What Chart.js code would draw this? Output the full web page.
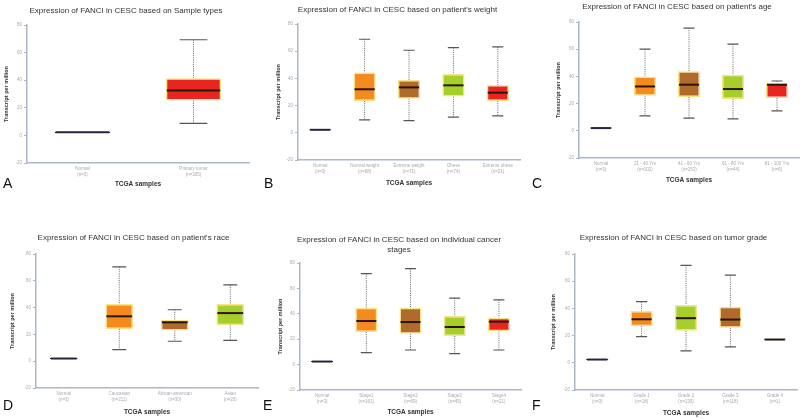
<!DOCTYPE html>
<html>
<head>
<meta charset="utf-8">
<script src="https://cdn.jsdelivr.net/npm/chart.js@4.4.0/dist/chart.umd.min.js"></script>
<style>
  body { margin: 0; background: #fff; width: 800px; height: 419px; overflow: hidden; font-family: "Liberation Sans", Arial, sans-serif; }
  .panel { position: absolute; }
  .letter { position: absolute; font-size: 14px; color: #111; }
</style>
</head>
<body>
<div class="panel" style="left:0;top:0;width:265px;height:200px"><canvas id="cA"></canvas></div>
<div class="panel" style="left:265px;top:0;width:265px;height:200px"><canvas id="cB"></canvas></div>
<div class="panel" style="left:530px;top:0;width:270px;height:200px"><canvas id="cC"></canvas></div>
<div class="panel" style="left:0;top:205px;width:265px;height:214px"><canvas id="cD"></canvas></div>
<div class="panel" style="left:265px;top:205px;width:265px;height:214px"><canvas id="cE"></canvas></div>
<div class="panel" style="left:530px;top:205px;width:270px;height:214px"><canvas id="cF"></canvas></div>
<div class="letter" style="left:3px;top:175px">A</div>
<div class="letter" style="left:264px;top:175px">B</div>
<div class="letter" style="left:532px;top:175px">C</div>
<div class="letter" style="left:3px;top:397px">D</div>
<div class="letter" style="left:263px;top:397px">E</div>
<div class="letter" style="left:532px;top:397px">F</div>
<script>
// datos (TPM)
const labelsA = [['Normal', '(n=3)'], ['Primary tumor', '(n=305)']];
const lowA  = [2.2, 8.7];
const q1A   = [1.8, 25.2];
const medA  = [2.2, 32.5];
const q3A   = [2.6, 41.5];
const highA = [2.2, 69.3];

const labelsB = [['Normal', '(n=3)'], ['Normal weight', '(n=88)'], ['Extreme weight', '(n=71)'], ['Obese', '(n=74)'], ['Extreme obese', '(n=21)']];
const lowB  = [2.2, 9.5, 9.0, 11.5, 12.4];
const q1B   = [1.8, 23.4, 25.1, 26.6, 23.4];
const medB  = [2.2, 32.0, 33.4, 34.9, 29.5];
const q3B   = [2.6, 44.4, 38.8, 43.2, 35.1];
const highB = [2.2, 68.8, 60.7, 62.7, 63.2];

const labelsC = [['Normal', '(n=3)'], ['21 - 40 Yrs', '(n=102)'], ['41 - 60 Yrs', '(n=153)'], ['61 - 80 Yrs', '(n=44)'], ['81 - 100 Yrs', '(n=6)']];
const lowC  = [2.0, 11.0, 9.3, 8.8, 14.7];
const q1C   = [1.6, 25.8, 24.8, 23.3, 24.1];
const medC  = [2.0, 32.6, 33.9, 30.7, 33.9];
const q3C   = [2.4, 40.0, 43.7, 41.2, 34.8];
const highC = [2.0, 60.0, 75.5, 63.8, 36.6];

const labelsD = [['Normal', '(n=3)'], ['Caucasian', '(n=211)'], ['African-american', '(n=30)'], ['Asian', '(n=20)']];
const lowD  = [2.0, 8.7, 14.9, 15.6];
const q1D   = [1.6, 24.0, 23.0, 26.8];
const medD  = [2.0, 33.5, 29.0, 35.9];
const q3D   = [2.4, 42.6, 31.0, 42.6];
const highD = [2.0, 70.4, 38.4, 57.0];

const labelsE = [['Normal', '(n=3)'], ['Stage1', '(n=161)'], ['Stage2', '(n=69)'], ['Stage3', '(n=45)'], ['Stage4', '(n=21)']];
const lowE  = [2.4, 9.4, 11.5, 8.6, 11.5];
const q1E   = [2.0, 25.7, 24.3, 22.5, 26.2];
const medE  = [2.4, 34.3, 33.5, 29.6, 33.8];
const q3E   = [2.8, 44.8, 44.8, 38.2, 36.9];
const highE = [2.4, 71.7, 75.6, 52.4, 51.0];

const labelsF = [['Normal', '(n=3)'], ['Grade 1', '(n=18)'], ['Grade 2', '(n=135)'], ['Grade 3', '(n=118)'], ['Grade 4', '(n=1)']];
const lowF  = [2.4, 19.3, 8.8, 11.7, 17.1];
const q1F   = [2.0, 26.9, 23.5, 25.7, 16.8];
const medF  = [2.4, 32.0, 32.8, 31.8, 17.1];
const q3F   = [2.8, 38.1, 42.5, 41.3, 17.4];
const highF = [2.4, 45.0, 71.7, 64.5, 17.1];

const yTicks = [-20, 0, 20, 40, 60, 80];

// colores
const NAVY = '#25253d', RED = '#e8251f', ORANGE = '#f58a1f', BROWN = '#b06a2a', GREEN = '#a6cf2b', GRAY = '#444444';

//Plugin para bigotes y medianas
const boxWhiskers = {
  id: 'boxWhiskers',
  beforeDatasetsDraw(chart) {
    const ds = chart.data.datasets[0];
    const meta = chart.getDatasetMeta(0);
    const y = chart.scales.y;
    const ctx = chart.ctx;
    ctx.save();
    meta.data.forEach((bar, i) => {
      const x = bar.x, w = bar.width;
      if (ds.high[i] === ds.low[i]) return;
      ctx.strokeStyle = '#666';
      ctx.lineWidth = 1;
      ctx.setLineDash([1, 1.2]);
      ctx.beginPath();
      ctx.moveTo(x, y.getPixelForValue(ds.high[i]));
      ctx.lineTo(x, y.getPixelForValue(ds.q3[i]));
      ctx.moveTo(x, y.getPixelForValue(ds.q1[i]));
      ctx.lineTo(x, y.getPixelForValue(ds.low[i]));
      ctx.stroke();
      ctx.setLineDash([]);
      ctx.strokeStyle = '#555';
      ctx.lineWidth = 1.2;
      ctx.beginPath();
      [ds.high[i], ds.low[i]].forEach(v => {
        const py = y.getPixelForValue(v);
        ctx.moveTo(x - w * 0.25, py);
        ctx.lineTo(x + w * 0.25, py);
      });
      ctx.stroke();
    });
    ctx.restore();
  },
  afterDatasetsDraw(chart) {
    const ds = chart.data.datasets[0];
    const meta = chart.getDatasetMeta(0);
    const y = chart.scales.y;
    const ctx = chart.ctx;
    ctx.save();
    meta.data.forEach((bar, i) => {
      const py = y.getPixelForValue(ds.med[i]);
      ctx.strokeStyle = ds.medColor[i];
      ctx.lineWidth = 2;
      ctx.beginPath();
      ctx.moveTo(bar.x - bar.width / 2 + 1, py);
      ctx.lineTo(bar.x + bar.width / 2 - 1, py);
      ctx.stroke();
    });
    ctx.restore();
  }
};

function renderPanel(id, title, labels, low, q1, med, q3, high, colors, lay) {
  const W = lay.w, H = lay.h;
  const titleLines = Array.isArray(title) ? title.length : 1;
  const titleH = titleLines * 9.6;
  const padTop = lay.titleY - titleH / 2;
  const padBottom = H - lay.xTitleY - 3.9;
  const data = {
    labels: labels,
    datasets: [{
      data: labels.map((l, i) => [q1[i], q3[i]]),
      low: low, high: high, med: med, q1: q1, q3: q3,
      medColor: colors.map(c => c === NAVY ? NAVY : '#2b140a'),
      backgroundColor: colors,
      borderColor: colors.map(c => c === NAVY ? NAVY : (c === GRAY ? GRAY : '#f7e48a')),
      borderWidth: 1.5,
      borderSkipped: false,
      barPercentage: 0.5,
      categoryPercentage: 1
    }]
  };
  const configData = {
    type: 'bar',
    data: data,
    plugins: [boxWhiskers],
    options: {
      responsive: true,
      maintainAspectRatio: false,
      animation: false,
      layout: { padding: { left: lay.padL, top: 0, right: W - lay.x1, bottom: padBottom } },
      plugins: {
        legend: { display: false },
        tooltip: { enabled: false },
        title: {
          display: true,
          text: title,
          color: '#333',
          font: { size: 8, weight: 'normal', family: '"Liberation Sans", Arial, sans-serif', lineHeight: 1.2 },
          padding: { top: padTop, bottom: lay.y0 - padTop - titleH }
        }
      },
      scales: {
        y: {
          min: -20, max: 80,
          afterBuildTicks: s => { s.ticks = yTicks.map(v => ({ value: v })); },
          afterFit: s => { s.width = lay.x0 - lay.padL; },
          ticks: { color: '#aaa', font: { size: 4.5 }, padding: 2 },
          grid: { display: true, drawOnChartArea: false, drawTicks: true, tickLength: 3, color: '#a9b7c6' },
          border: { display: true, color: '#a9b7c6', width: 1.5 },
          title: { display: true, text: 'Transcript per million', color: '#333', font: { size: 5.5, weight: 'bold' }, padding: { top: 0, bottom: 2 } }
        },
        x: {
          afterFit: s => { s.height = H - padBottom - lay.y1; },
          ticks: { color: '#aaa', font: { size: 4.5, lineHeight: 1.3 }, padding: 3, maxRotation: 0, autoSkip: false },
          grid: { display: false, drawTicks: false },
          border: { display: true, color: '#a9b7c6', width: 1.5 },
          title: { display: true, text: 'TCGA samples', color: '#333', font: { size: 6.5, weight: 'bold' }, padding: { top: 3, bottom: 0 } }
        }
      }
    }
  };
  new Chart(document.getElementById(id), configData);
}

renderPanel('cA', 'Expression of FANCI in CESC based on Sample types', labelsA, lowA, q1A, medA, q3A, highA,
  [NAVY, RED], { w: 265, h: 200, padL: 3, x0: 27, x1: 249, y0: 25, y1: 163, titleY: 11, xTitleY: 184 });
renderPanel('cB', "Expression of FANCI in CESC based on patient's weight", labelsB, lowB, q1B, medB, q3B, highB,
  [NAVY, ORANGE, BROWN, GREEN, RED], { w: 265, h: 200, padL: 10, x0: 33, x1: 255, y0: 24, y1: 160, titleY: 10, xTitleY: 183 });
renderPanel('cC', "Expression of FANCI in CESC based on patient's age", labelsC, lowC, q1C, medC, q3C, highC,
  [NAVY, ORANGE, BROWN, GREEN, RED], { w: 270, h: 200, padL: 25, x0: 49, x1: 269, y0: 22, y1: 158, titleY: 7, xTitleY: 180 });
renderPanel('cD', "Expression of FANCI in CESC based on patient's race", labelsD, lowD, q1D, medD, q3D, highD,
  [NAVY, ORANGE, BROWN, GREEN], { w: 265, h: 214, padL: 9, x0: 36, x1: 258, y0: 49, y1: 183, titleY: 33, xTitleY: 207 });
renderPanel('cE', ['Expression of FANCI in CESC based on individual cancer', 'stages'], labelsE, lowE, q1E, medE, q3E, highE,
  [NAVY, ORANGE, BROWN, GREEN, RED], { w: 265, h: 214, padL: 12, x0: 35, x1: 256, y0: 58, y1: 185, titleY: 40, xTitleY: 207 });
renderPanel('cF', 'Expression of FANCI in CESC based on tumor grade', labelsF, lowF, q1F, medF, q3F, highF,
  [NAVY, ORANGE, GREEN, BROWN, GRAY], { w: 270, h: 214, padL: 20, x0: 45, x1: 267, y0: 49, y1: 185, titleY: 33, xTitleY: 208 });
</script>
</body>
</html>
